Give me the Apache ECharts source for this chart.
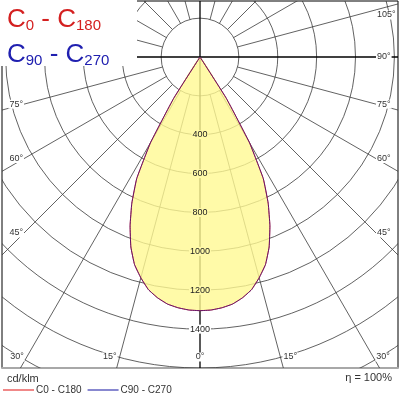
<!DOCTYPE html>
<html>
<head>
<meta charset="utf-8">
<script src="https://cdn.jsdelivr.net/npm/echarts@6/dist/echarts.min.js"></script>
<style>
html, body { margin: 0; padding: 0; background: #fff; }
#chart { width: 400px; height: 400px; }
</style>
</head>
<body>
<div id="chart"></div>
<script>
// gamma angle from nadir (deg) and luminous intensity (cd/klm)
var gammaDeg = [0, 2.5, 5, 7.5, 10, 12.5, 15, 17.5, 20, 22.5, 25, 27.5, 30, 32.5, 35];
var c0   = [1305, 1303, 1295, 1282, 1258, 1226, 1176, 1120, 1040, 940, 830, 705, 510, 252, 0];
var c180 = [1305, 1303, 1295, 1282, 1258, 1226, 1176, 1120, 1040, 940, 830, 705, 510, 252, 0];
var c90  = [1305, 1303, 1295, 1282, 1258, 1226, 1176, 1120, 1040, 940, 830, 705, 510, 252, 0];
var c270 = [1305, 1303, 1295, 1282, 1258, 1226, 1176, 1120, 1040, 940, 830, 705, 510, 252, 0];

var ringValues = [200, 400, 600, 800, 1000, 1200, 1400, 1600, 1800, 2000, 2200];
var ringLabels = [400, 600, 800, 1000, 1200, 1400];
var angleLabels = [0, 15, 30, 45, 60, 75, 90, 105];

var K = 311 / 1600; // px per cd/klm
var FONT = 'Arial, "Liberation Sans", sans-serif';
var FILL_BG = '#fffaa8';

var chart = echarts.init(document.getElementById('chart'), null, { renderer: 'canvas' });

// polar (gamma, value) -> cartesian data units, downwards is negative y
function toXY(g, v, side) {
  var a = g * Math.PI / 180;
  return [side * v * Math.sin(a), -v * Math.cos(a)];
}

function curvePoints(right, left, api) {
  var pts = [];
  var i;
  for (i = gammaDeg.length - 1; i >= 0; i--) pts.push(api.coord(toXY(gammaDeg[i], left[i], -1)));
  for (i = 1; i < gammaDeg.length; i++) pts.push(api.coord(toXY(gammaDeg[i], right[i], 1)));
  return pts;
}

function renderGrid(params, api) {
  var c = api.coord([0, 0]);
  var kids = [];
  ringValues.forEach(function (v) {
    var r = api.size([v, 0])[0];
    kids.push({ type: 'circle', shape: { cx: c[0], cy: c[1], r: r },
      style: { fill: null, stroke: '#3a3a3a', lineWidth: 0.8 } });
  });
  for (var g = 0; g < 360; g += 15) {
    var axis = g % 90 === 0;
    var p0 = api.coord(toXY(g, axis ? 0 : 200, 1));
    var p1 = api.coord(toXY(g, 3000, 1));
    kids.push({ type: 'line', shape: { x1: p0[0], y1: p0[1], x2: p1[0], y2: p1[1] },
      style: { stroke: axis ? '#000' : '#3a3a3a', lineWidth: axis ? 1.3 : 0.8 } });
  }
  return { type: 'group', children: kids };
}

function renderFill(params, api) {
  var pts = curvePoints(c0, c180, api);
  pts.pop();
  return { type: 'polygon', shape: { points: pts, smooth: 0.1 },
    style: { fill: 'rgba(255,249,146,0.8)', stroke: null } };
}

function outline(right, left, color, opacity) {
  return function (params, api) {
    return { type: 'polyline', shape: { points: curvePoints(right, left, api), smooth: 0.1 },
      style: { stroke: color, fill: null, lineWidth: 1, opacity: opacity } };
  };
}

function renderLabels(params, api) {
  var c = api.coord([0, 0]);
  var kids = [];
  ringLabels.forEach(function (v) {
    var p = api.coord([0, -v]);
    kids.push({ type: 'text', x: p[0], y: p[1],
      style: { text: String(v), fill: '#222', font: '9px ' + FONT, align: 'center', verticalAlign: 'middle',
        backgroundColor: v < c0[0] ? FILL_BG : '#fff', padding: [0, 1] } });
  });
  var xr = 176, yb = 357 - c[1], yt = 15 - c[1];
  angleLabels.forEach(function (g) {
    [1, -1].forEach(function (side) {
      if (g === 0 && side < 0) return;
      var a = g * Math.PI / 180;
      var dx, dy;
      if (g === 0) { dx = 0; dy = yb; }
      else {
        dx = xr; dy = xr / Math.tan(a);
        if (dy > yb) { dy = yb; dx = yb * Math.tan(a) + 2; }
        if (dy < yt) dy = yt;
      }
      kids.push({ type: 'text', x: c[0] + side * dx, y: c[1] + dy,
        style: { text: g + '°', fill: '#333', font: '9px ' + FONT,
          align: g === 0 ? 'center' : (side > 0 ? 'left' : 'right'), verticalAlign: 'middle',
          backgroundColor: '#fff', padding: [0, 1] } });
    });
  });
  return { type: 'group', children: kids };
}

var titleRich = function (color) {
  return {
    c: { fontSize: 26, fontFamily: FONT, fontWeight: 'normal', color: color, lineHeight: 26, verticalAlign: 'bottom' },
    s: { fontSize: 15, fontFamily: FONT, fontWeight: 'normal', color: color, lineHeight: 26, verticalAlign: 'bottom' }
  };
};

var option = {
  animation: false,
  grid: { left: 2, right: 2, top: 1, bottom: 32, show: true, borderColor: '#000', borderWidth: 1 },
  xAxis: {
    type: 'value', min: -198 / K, max: 198 / K,
    axisLine: { show: true, onZero: false, lineStyle: { color: '#a8a8a8', width: 2 } },
    axisTick: { show: false }, axisLabel: { show: false }, splitLine: { show: false }
  },
  yAxis: {
    type: 'value', min: -1600, max: 56 / K,
    axisLine: { show: false }, axisTick: { show: false }, axisLabel: { show: false }, splitLine: { show: false }
  },
  title: [
    { left: 2, top: 5, z: 100, padding: [2, 5], text: '{c|C}{s|0}{c| - C}{s|180}',
      textStyle: { fontWeight: 'normal', rich: titleRich('#d42020') } },
    { left: 2, top: 40, z: 100, padding: [2, 5], text: '{c|C}{s|90}{c| - C}{s|270}',
      textStyle: { fontWeight: 'normal', rich: titleRich('#2020b0') } }
  ],
  legend: {
    left: 3, top: 385, padding: 0, itemWidth: 31, itemHeight: 1, itemGap: 6, icon: 'rect',
    textStyle: { fontSize: 10, fontFamily: FONT, color: '#333', padding: [0, 0, 0, -3] },
    data: ['C0 - C180', 'C90 - C270']
  },
  graphic: [
    { type: 'rect', left: 0, top: 0, z: 50, shape: { width: 137, height: 66 }, style: { fill: '#fff' } },
    { type: 'text', left: 7, top: 373, z: 50, style: { text: 'cd/klm', font: '11px ' + FONT, fill: '#333' } },
    { type: 'text', right: 8, top: 372, z: 50, style: { text: 'η = 100%', font: '11px ' + FONT, fill: '#333' } }
  ],
  series: [
    { type: 'custom', name: 'grid', renderItem: renderGrid, clip: true, silent: true, z: 1, data: [[0, 0]] },
    { type: 'custom', name: 'fill', renderItem: renderFill, silent: true, z: 2, data: [[0, 0]] },
    { type: 'custom', name: 'C0 - C180', renderItem: outline(c0, c180, '#e01010', 1), itemStyle: { color: '#e01010' }, z: 3, data: [[0, 0]] },
    { type: 'custom', name: 'C90 - C270', renderItem: outline(c90, c270, '#1010a0', 0.6), itemStyle: { color: '#1010a0' }, z: 4, data: [[0, 0]] },
    { type: 'custom', name: 'labels', renderItem: renderLabels, silent: true, z: 5, data: [[0, 0]] }
  ]
};

chart.setOption(option);
window.addEventListener('resize', chart.resize);
</script>
</body>
</html>
